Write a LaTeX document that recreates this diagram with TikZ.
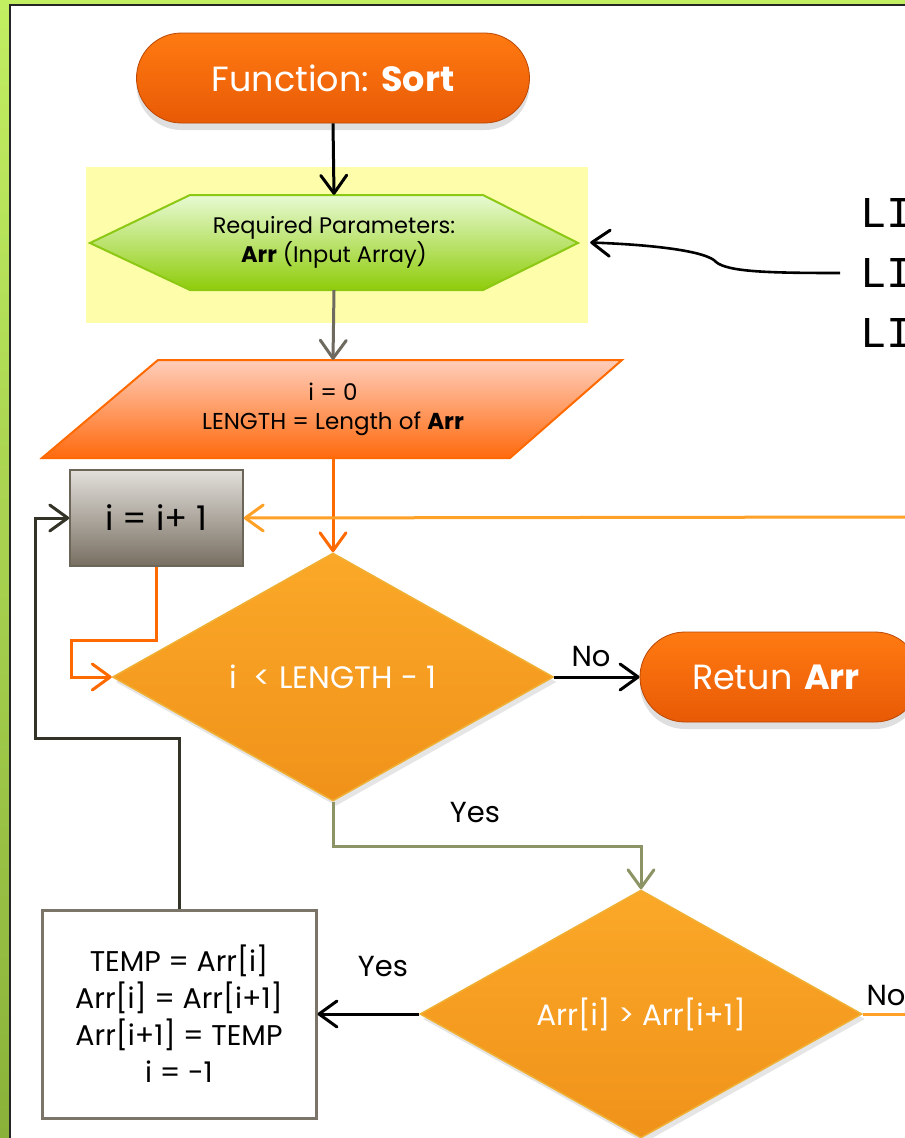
\documentclass[tikz,border=0pt]{standalone}
\usepackage{fontspec}
\setmainfont{Poppins}
\newfontfamily\monofont{Liberation Mono}
\usetikzlibrary{arrows.meta,shapes.geometric,shadows}
\definecolor{gtop}{HTML}{C2EE62}
\definecolor{gbot}{HTML}{8AB23A}
\definecolor{otop}{HTML}{FF7A12}
\definecolor{obot}{HTML}{E85A05}
\definecolor{htop}{HTML}{E8FAD4}
\definecolor{hbot}{HTML}{8FCC0A}
\definecolor{hbrd}{HTML}{8CC814}
\definecolor{ptop}{HTML}{FFCDBB}
\definecolor{pbot}{HTML}{FF6A0D}
\definecolor{pbrd}{HTML}{FF6A00}
\definecolor{btop}{HTML}{E2DFDA}
\definecolor{bbot}{HTML}{786F62}
\definecolor{bbrd}{HTML}{6C6658}
\definecolor{dtop}{HTML}{FBA828}
\definecolor{dbot}{HTML}{F0921A}
\definecolor{dbrd}{HTML}{EFB035}
\definecolor{lorange}{HTML}{FFA126}
\definecolor{dorange}{HTML}{FF6A00}
\definecolor{olive}{HTML}{8C9364}
\definecolor{grayline}{HTML}{6E6A60}
\definecolor{darkline}{HTML}{333328}
\definecolor{hilite}{HTML}{FEFEAA}
\tikzset{
  conn/.style={line width=3pt,-{Straight Barb[length=18pt,width=26pt,line width=3pt,round]}},
  pill/.style={rectangle,rounded corners=45pt,top color=otop,bottom color=obot,draw=obot!80!black,line width=0.8pt,
     text=white,drop shadow={opacity=0.25,shadow xshift=0pt,shadow yshift=-7pt}},
  decision/.style={diamond,inner sep=0pt,top color=dtop,bottom color=dbot,draw=dbrd,line width=1.5pt,text=white,
     drop shadow={opacity=0.2,shadow xshift=3pt,shadow yshift=-5pt}},
  lbl/.style={font=\fontsize{29}{29}\selectfont,text=black,inner sep=0pt},
}
\begin{document}
\begin{tikzpicture}[x=1pt,y=-1pt]
\useasboundingbox (0,0) rectangle (905,1138);
% background
\shade[top color=gtop,bottom color=gbot] (0,0) rectangle (905,1138);
\fill[white] (10,5) rectangle (910,1145);
\draw[line width=2pt,black!85] (10,1145) -- (10,5) -- (910,5);
% highlight
\fill[hilite] (86,167) rectangle (588,323);
% nodes
\node[pill,minimum width=393pt,minimum height=90pt,font=\fontsize{35}{35}\selectfont] (start) at (333,78) {Function: \textbf{Sort}};
\path[top color=htop,bottom color=hbot,draw=hbrd,line width=2pt] (90,243) -- (190,195) -- (483,195) -- (578,243) -- (483,290) -- (190,290) -- cycle;
\node[minimum width=488pt,minimum height=95pt,inner sep=0pt,align=center,font=\fontsize{22.5}{29}\selectfont] (hex) at (334,242.5) {Required Parameters:\\\textbf{Arr} (Input Array)};
\path[top color=ptop,bottom color=pbot,draw=pbrd,line width=2pt] (158,360) -- (622,360) -- (510,458) -- (42,458) -- cycle;
\node[minimum width=350pt,minimum height=98pt,inner sep=0pt,align=center,font=\fontsize{23}{29}\selectfont] (par) at (333,409) {i = 0\\LENGTH = Length of \textbf{Arr}};
\node[rectangle,minimum width=173pt,minimum height=96pt,top color=btop,bottom color=bbot,draw=bbrd,line width=1.5pt,font=\fontsize{34}{34}\selectfont] (incr) at (156.5,518) {i = i+ 1};
\node[decision,minimum width=441pt,minimum height=248pt,font=\fontsize{31}{31}\selectfont] (dia1) at (333,677) {i\ \ < LENGTH - 1};
\node[pill,minimum width=280pt,minimum height=90pt,font=\fontsize{35}{35}\selectfont,text width=240pt,align=left] (ret) at (780,677) {\hspace*{32pt}Retun \textbf{Arr}};
\node[decision,minimum width=442pt,minimum height=248pt,font=\fontsize{29.5}{29.5}\selectfont] (dia2) at (641,1014) {Arr[i] > Arr[i+1]};
\node[rectangle,fill=white,draw=bbrd!90!white,line width=3pt,minimum width=274pt,minimum height=208pt,align=center,font=\fontsize{28.5}{37}\selectfont] (swap) at (179,1014) {TEMP = Arr[i]\\Arr[i] = Arr[i+1]\\Arr[i+1] = TEMP\\i = -1};
% LI texts
\node[anchor=west,inner sep=0pt,font=\monofont\fontsize{44}{44}\selectfont] (li1) at (860,213) {LI};
\node[anchor=west,inner sep=0pt,font=\monofont\fontsize{44}{44}\selectfont] (li2) at (860,273) {LI};
\node[anchor=west,inner sep=0pt,font=\monofont\fontsize{44}{44}\selectfont] (li3) at (860,333) {LI};
% coordinates at right edge
\coordinate (rin) at (905,517);
\coordinate (rout) at (905,1014);
% connectors
\draw[conn,black] (start.south) -- (hex.north);
\draw[conn,grayline] (hex.south) -- (par.north);
\draw[conn,dorange] (par.south) -- (dia1.north);
\draw[conn,lorange] (rin) -- (incr.east);
\draw[conn,dorange] (incr.south) -- ++(0,74) -- ++(-85,0) |- (dia1.west);
\draw[conn,darkline] (swap.north) -- ++(0,-170) -- ++(-144,0) |- (incr.west);
\draw[conn,black] (dia1.east) -- (ret.west);
\draw[conn,olive] (dia1.south) -- ++(0,45) -| (dia2.north);
\draw[conn,black] (dia2.west) -- (swap.east);
\draw[line width=3pt,lorange] (dia2.east) -- (rout);
\draw[conn,black,line width=2.6pt] ([xshift=-20pt]li2.west) .. controls (770,273) and (728,272) .. (716,262) .. controls (708,252) and (660,245) .. ([xshift=12pt]hex.east);
% labels
\node[lbl] (no1) at (591,656) {No};
\node[lbl] (yes1) at (475,813) {Yes};
\node[lbl] (yes2) at (383,967) {Yes};
\node[lbl] (no2) at (886,995) {No};
\end{tikzpicture}
\end{document}
